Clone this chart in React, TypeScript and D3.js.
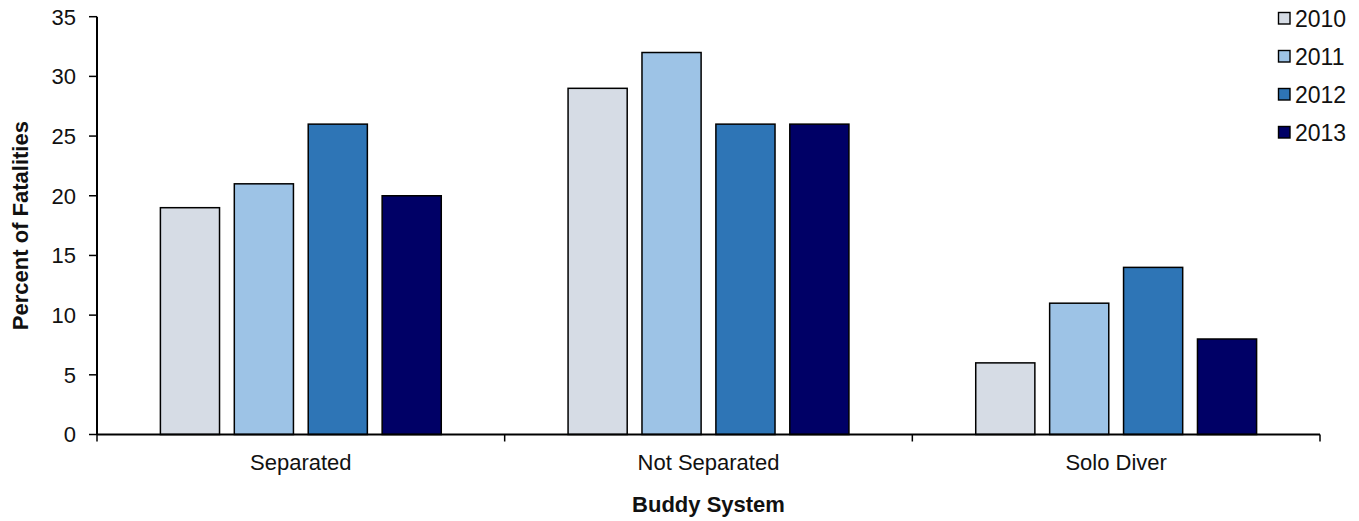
import React from "react";
import * as d3 from "d3";

const categories = ["Separated", "Not Separated", "Solo Diver"];
const years = ["2010", "2011", "2012", "2013"];
const values2010 = [19, 29, 6];
const values2011 = [21, 32, 11];
const values2012 = [26, 26, 14];
const values2013 = [20, 26, 8];
const yTicks = [0, 5, 10, 15, 20, 25, 30, 35];
const colors = ["#D6DCE5", "#9DC3E6", "#2E75B6", "#000066"];

const seriesValues = [values2010, values2011, values2012, values2013];

const W = 1359;
const H = 521;
const left = 97;
const right = 1320;
const top = 16.7;
const bottom = 434.5;
const FONT = "Arial, 'Liberation Sans', sans-serif";

export default function App() {
  const x0 = d3.scaleBand<string>().domain(categories).range([left, right]).padding(0);
  const bw = x0.bandwidth();
  const x1 = d3
    .scaleBand<string>()
    .domain(years)
    .range([63.4, bw - 63.4])
    .paddingInner(0.2)
    .paddingOuter(0);
  const y = d3.scaleLinear().domain([0, 35]).range([bottom, top]);

  const catTicks = [left, ...categories.map((c) => (x0(c) as number) + bw)];

  return (
    <svg
      width={W}
      height={H}
      style={{ position: "absolute", left: 0, top: 0, background: "#fff" }}
      fontFamily={FONT}
    >
      <rect x={0} y={0} width={W} height={H} fill="#fff" />
      {categories.map((c, ci) =>
        years.map((yr, si) => {
          const v = seriesValues[si][ci];
          const bx = (x0(c) as number) + (x1(yr) as number);
          return (
            <rect
              key={c + yr}
              x={bx}
              y={y(v)}
              width={x1.bandwidth()}
              height={y(0) - y(v)}
              fill={colors[si]}
              stroke="#000"
              strokeWidth={1.5}
            />
          );
        })
      )}
      {/* y axis */}
      <line x1={left} x2={left} y1={top} y2={bottom} stroke="#000" strokeWidth={2} />
      {yTicks.map((t) => (
        <g key={t}>
          <line x1={left - 8} x2={left} y1={y(t)} y2={y(t)} stroke="#000" strokeWidth={1.5} />
          <text
            x={left - 21}
            y={y(t)}
            dy="0.36em"
            textAnchor="end"
            fontSize={22}
            fill="#111"
          >
            {t}
          </text>
        </g>
      ))}
      {/* x axis */}
      <line x1={left} x2={right} y1={bottom} y2={bottom} stroke="#000" strokeWidth={2} />
      {catTicks.map((tx, i) => (
        <line key={i} x1={tx} x2={tx} y1={bottom} y2={bottom + 7} stroke="#000" strokeWidth={1.5} />
      ))}
      {categories.map((c) => (
        <text
          key={c}
          x={(x0(c) as number) + bw / 2}
          y={470}
          textAnchor="middle"
          fontSize={22}
          fill="#111"
        >
          {c}
        </text>
      ))}
      <text x={(left + right) / 2} y={512} textAnchor="middle" fontSize={22} fontWeight="bold" fill="#111">
        Buddy System
      </text>
      <text
        transform={`translate(28, ${(top + bottom) / 2}) rotate(-90)`}
        textAnchor="middle"
        fontSize={22}
        fontWeight="bold"
        fill="#111"
      >
        Percent of Fatalities
      </text>
      {/* legend */}
      {years.map((yr, i) => {
        const ly = 12 + i * 38;
        return (
          <g key={yr}>
            <rect x={1278.5} y={ly + 0.5} width={11.5} height={11.5} fill={colors[i]} stroke="#000" strokeWidth={1.4} />
            <text x={1295} y={ly + 14.5} fontSize={23} fill="#111">
              {yr}
            </text>
          </g>
        );
      })}
    </svg>
  );
}
